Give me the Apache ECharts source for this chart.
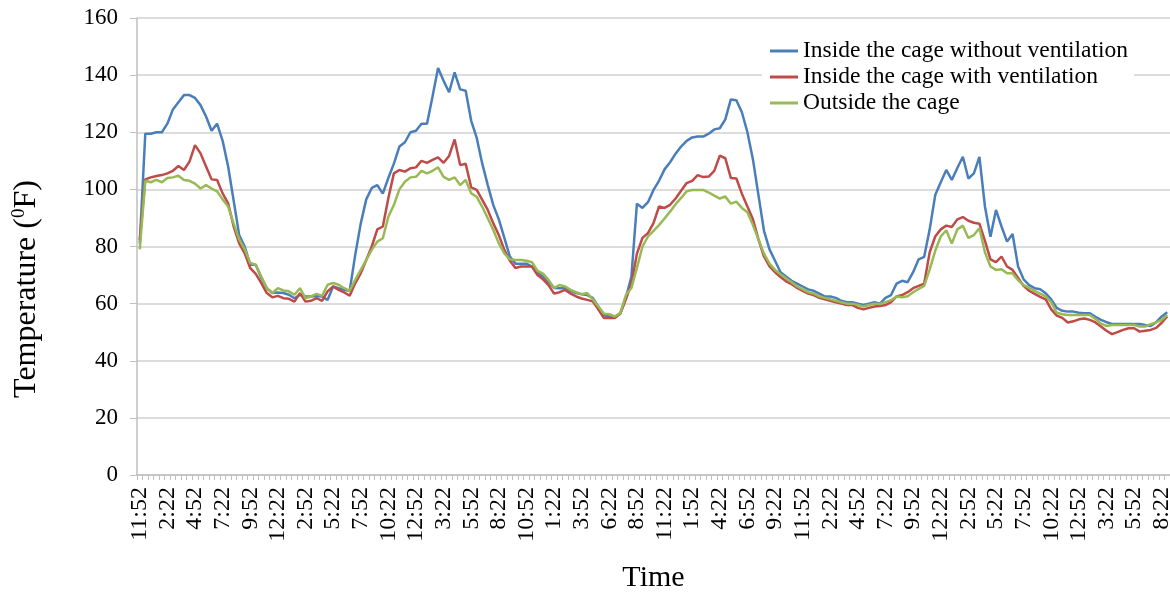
<!DOCTYPE html>
<html><head><meta charset="utf-8">
<script src="https://cdn.jsdelivr.net/npm/echarts@6/dist/echarts.min.js"></script>
<style>html,body{margin:0;padding:0;background:#fff}#c{width:1170px;height:592px}</style>
</head><body><div id="c"></div>
<script>
// Category labels (30-minute readings)
const times = (
 '11:52 12:22 12:52 1:22 1:52 2:22 2:52 3:22 3:52 4:22 4:52 5:22 5:52 6:22 6:52 7:22 7:52 8:22 8:52 9:22 9:52 10:22 10:52 11:22 ' +
 '11:52 12:22 12:52 1:22 1:52 2:22 2:52 3:22 3:52 4:22 4:52 5:22 5:52 6:22 6:52 7:22 7:52 8:22 8:52 9:22 9:52 10:22 10:52 11:22 ' +
 '11:52 12:22 12:52 1:22 1:52 2:22 2:52 3:22 3:52 4:22 4:52 5:22 5:52 6:22 6:52 7:22 7:52 8:22 8:52 9:22 9:52 10:22 10:52 11:22 ' +
 '11:52 12:22 12:52 1:22 1:52 2:22 2:52 3:22 3:52 4:22 4:52 5:22 5:52 6:22 6:52 7:22 7:52 8:22 8:52 9:22 9:52 10:22 10:52 11:22 ' +
 '11:52 12:22 12:52 1:22 1:52 2:22 2:52 3:22 3:52 4:22 4:52 5:22 5:52 6:22 6:52 7:22 7:52 8:22 8:52 9:22 9:52 10:22 10:52 11:22 ' +
 '11:52 12:22 12:52 1:22 1:52 2:22 2:52 3:22 3:52 4:22 4:52 5:22 5:52 6:22 6:52 7:22 7:52 8:22 8:52 9:22 9:52 10:22 10:52 11:22 ' +
 '11:52 12:22 12:52 1:22 1:52 2:22 2:52 3:22 3:52 4:22 4:52 5:22 5:52 6:22 6:52 7:22 7:52 8:22 8:52 9:22 9:52 10:22 10:52 11:22 ' +
 '11:52 12:22 12:52 1:22 1:52 2:22 2:52 3:22 3:52 4:22 4:52 5:22 5:52 6:22 6:52 7:22 7:52 8:22 8:52'
).split(' ');

const withoutVentilation = [
 81,119.5,119.5,120,120,123,128,130.5,133,133,132,129.5,125.5,120.5,123,117,108,96,84,80,
 73.6,73.6,69,65.4,63.7,63.9,63.7,63.1,61.9,63.1,62.5,62.5,62.7,62.5,61.3,66,65.4,64.8,64.5,77,
 88,96.5,100.5,101.5,98.5,104,109,115,116.5,120,120.5,123,123,132.5,142.5,138,134,141,135,134.5,
 124,118,109,101.5,94.5,89.5,83,76.5,74,74,74,73,71,69.5,67.5,65.5,65.4,65.4,64.5,63.7,
 63.3,63,62,59,56,55.5,55.3,56.7,62,69.5,95,93.5,95.5,99.8,103,107,109.5,112.5,115,117,
 118.2,118.5,118.5,119.5,121,121.4,124.5,131.5,131.2,127,120,110.5,98,85.5,79,75,71,69.5,68,67,
 66,65,64.5,63.5,62.5,62.5,62,61,60.5,60.5,60,59.5,60,60.5,60,62,63,67,68,67.5,
 71,75.5,76.4,86,98,102.5,106.8,103.3,107.5,111.4,103.8,105.6,111.4,94,83.4,92.8,87,81.7,84.4,73,
 68.5,66.5,65.4,65,63.6,61.5,58.5,57.5,57.2,57.2,56.8,56.6,56.6,55.4,54.3,53.5,52.9,52.9,52.9,52.9,
 52.9,52.9,52.5,52.2,53.5,55.5,57
];
const withVentilation = [
 82.3,103.5,104.2,104.7,105,105.6,106.5,108.2,106.8,109.7,115.5,112.6,108,103.5,103.3,98.6,95.1,87,81.1,77.6,
 72.4,70.4,67.2,63.7,62.2,62.7,61.9,61.7,60.7,63.7,60.7,61,61.9,61,64.3,66,64.8,63.9,62.8,67.1,
 70.6,75.3,80,86,87,96.9,105.6,106.8,106.2,107.4,107.7,110,109.3,110.3,111.2,109.3,111.7,117.5,108.5,109,
 100.7,99.8,96.3,92.8,88.1,84,78.8,75,72.5,73,73,73,70,68.5,66.5,63.5,64,64.8,63.5,62.5,
 61.8,61.3,60.8,58,55,55,55,56.5,61.5,67,77.5,83,84.7,88.2,94,93.5,94.6,96.8,99.5,102.2,
 103,105,104.3,104.5,106.5,111.8,110.9,104,103.8,98.5,94,89.5,82.5,76.5,73,71,69.3,67.8,66.8,65.5,
 64.5,63.5,63,62,61.5,61,60.5,60,59.5,59.5,58.5,58,58.5,59,59.2,59.5,60.5,62.5,63,64,
 65.4,66.2,67,78,83.5,86,87.3,86.8,89.5,90.3,89,88.3,88,82,75.5,74.5,76.5,73,71.8,69,
 66.2,64.5,63.4,62.4,61.5,58,55.8,55,53.4,53.8,54.5,54.8,54.3,53.4,52,50.5,49.3,50,50.8,51.4,
 51.4,50.2,50.5,50.8,51.5,53.3,55.5
];
const outsideCage = [
 79,103,102.5,103.3,102.5,104,104.2,104.8,103.3,103,102,100.3,101.5,100.3,99.3,96.5,94,88,82.5,79,
 74.2,73.6,69.5,65.4,63.7,65.4,64.6,64.3,63.1,65.4,61.9,62.5,63.4,62.7,66.6,67.2,66.6,65.4,64.5,68.3,
 71.8,75.3,78.8,81.7,82.9,90.4,94.5,100,102.7,104.2,104.4,106.5,105.6,106.5,107.7,104.4,103.3,104.2,101.5,103.3,
 98.6,97.4,93.9,89.9,85.8,81.1,77.6,75.5,75.3,75.3,75,74.5,71.5,70.5,68.3,65.5,66.5,66,64.8,64,
 63.3,63.7,61.5,59,56.5,56.3,55.5,56.7,63,65.5,72.5,80,83.5,85.5,87.5,89.8,92.2,94.8,97,99.3,
 99.8,99.8,99.8,98.9,97.8,96.8,97.5,95,95.7,93.5,92,87.5,82.5,77.5,74,71.8,70.3,68.9,67.5,66,
 65,64,63.5,62.5,62,61.5,61,60.5,60,60,59.5,59,59.5,60,59.9,60.5,61.2,62.5,62.2,62.6,
 64,65.2,66.2,72,78.5,83.5,85.7,81,86,87.3,83,84,86.4,78,73,71.8,72,70.6,70.6,68.2,
 66.5,65.5,64.5,63.5,62.5,60.5,56.8,56.3,56,56,56,56,56,54.6,53,52.2,52.5,52.5,52.5,52.5,
 52.5,52,52,52.8,53.4,54.3,56
];
const seriesNames = ['Inside the cage without ventilation','Inside the cage with ventilation','Outside the cage'];
const seriesColors = ['#4a7ebb','#be4b48','#98b954'];

const FONT = '"Liberation Serif","Times New Roman",serif';
const chart = echarts.init(document.getElementById('c'), null, {renderer: 'canvas'});
chart.setOption({
  animation: false,
  backgroundColor: '#fff',
  grid: {left: 137, right: 0, top: 18, bottom: 117, containLabel: false, outerBoundsMode: 'none'},
  legend: {
    orient: 'vertical', left: 762, top: 36,
    padding: [3, 6, 3, 8], itemGap: 2,
    itemWidth: 28, itemHeight: 3, icon: 'rect',
    backgroundColor: '#fff',
    textStyle: {fontFamily: FONT, fontSize: 23.5, color: '#000', lineHeight: 24},
    data: seriesNames
  },
  xAxis: {
    type: 'category', data: times, boundaryGap: true,
    axisLine: {lineStyle: {color: '#bfbfbf', width: 1.5}},
    axisTick: {show: true, interval: 0, length: 5, lineStyle: {color: '#bfbfbf'}},
    axisLabel: {interval: 4, rotate: 90, margin: 12, fontFamily: FONT, fontSize: 24, color: '#000'},
    splitLine: {show: false},
    name: 'Time', nameLocation: 'middle', nameGap: 88,
    nameTextStyle: {fontFamily: FONT, fontSize: 30, color: '#000'}
  },
  yAxis: {
    type: 'value', min: 0, max: 160, interval: 20,
    axisLine: {show: true, lineStyle: {color: '#bfbfbf', width: 1.5}},
    axisTick: {show: true, length: 7, lineStyle: {color: '#bfbfbf'}},
    axisLabel: {margin: 19, fontFamily: FONT, fontSize: 23, color: '#000'},
    splitLine: {lineStyle: {color: '#d0d0d0', width: 1.5}}
  },
  graphic: [{
    type: 'text', x: 27, y: 289, rotation: Math.PI / 2,
    style: {
      text: '{a|Temperature (}{s|0}{a|F)}',
      align: 'center', verticalAlign: 'middle',
      rich: {
        a: {fontFamily: FONT, fontSize: 32, fill: '#000', lineHeight: 35},
        s: {fontFamily: FONT, fontSize: 19, fill: '#000', lineHeight: 35, verticalAlign: 'top', padding: [0, 0, 14, 0]}
      }
    }
  }],
  series: [withoutVentilation, withVentilation, outsideCage].map((d, k) => ({
    name: seriesNames[k], type: 'line', data: d,
    showSymbol: false, symbol: 'none', smooth: false,
    lineStyle: {color: seriesColors[k], width: 2.5},
    itemStyle: {color: seriesColors[k]}
  }))
});
</script></body></html>
